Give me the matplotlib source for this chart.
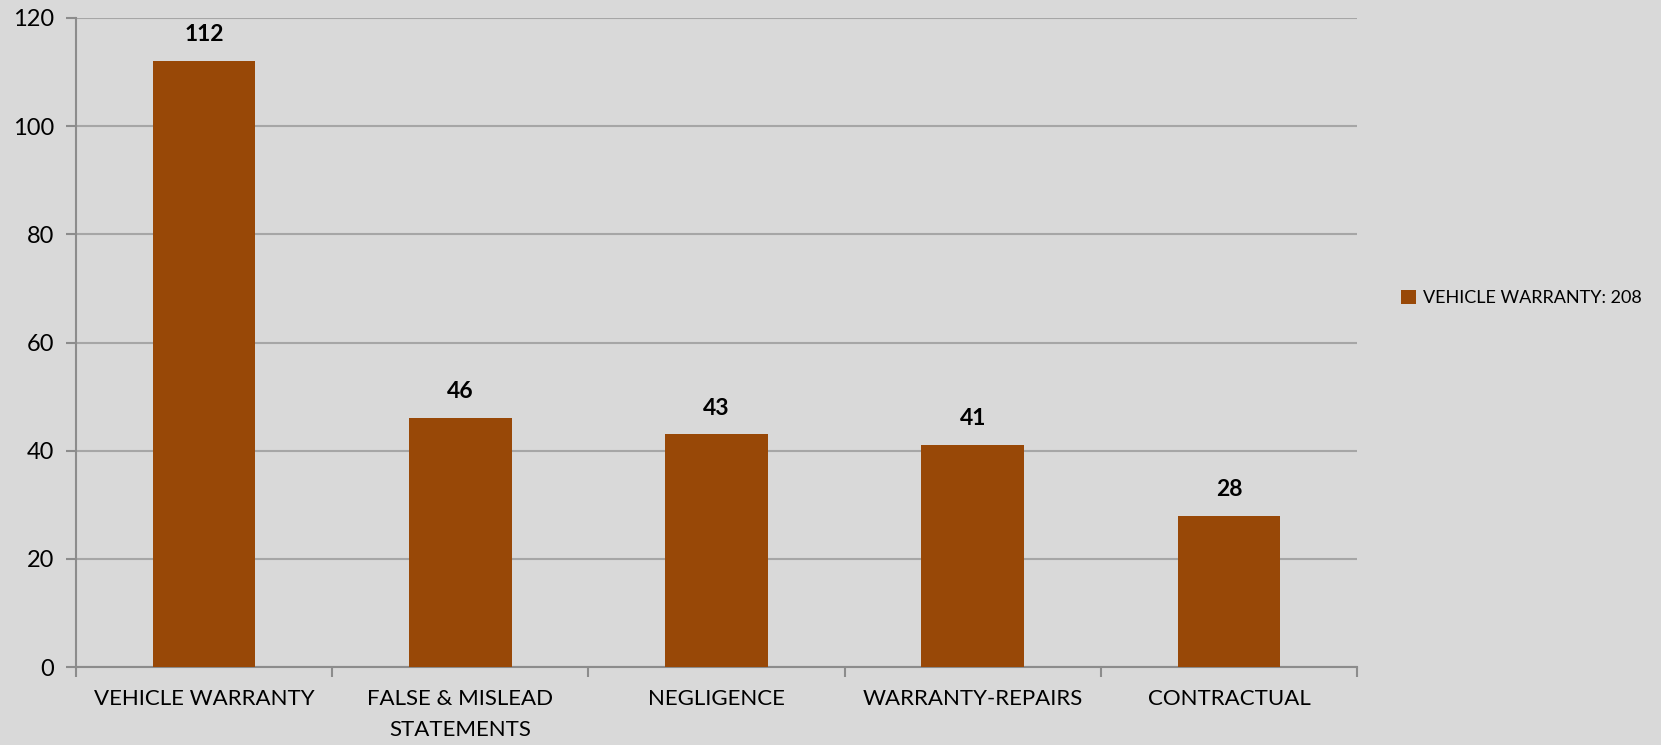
import matplotlib
matplotlib.use("Agg")
import matplotlib.pyplot as plt
from matplotlib.patches import Patch
import numpy as np

categories = ["VEHICLE WARRANTY", "FALSE & MISLEAD\nSTATEMENTS", "NEGLIGENCE",
              "WARRANTY-REPAIRS", "CONTRACTUAL"]
counts = [112, 46, 43, 41, 28]
legend_label = "VEHICLE WARRANTY: 208"
yticks = [0, 20, 40, 60, 80, 100, 120]

bg = "#d9d9d9"
bar_color = "#984807"
grid_color = "#a6a6a6"
axis_color = "#8c8c8c"

plt.rcParams['font.family'] = ['Lato', 'DejaVu Sans']

fig = plt.figure(figsize=(16.61, 7.45), dpi=100, facecolor=bg)
ax = fig.add_axes([76 / 1661, 1 - 667 / 745, (1357 - 76) / 1661, (667 - 18) / 745])
ax.set_facecolor(bg)

x = np.arange(len(categories))
bars = ax.bar(x, counts, width=0.4, color=bar_color, zorder=3)

for b, v in zip(bars, counts):
    ax.annotate(str(v), (b.get_x() + b.get_width() / 2, v), xytext=(0, 19),
                textcoords="offset points", ha="center", va="center",
                fontsize=16.5, fontweight="bold", color="black")

ax.set_xlim(-0.5, len(categories) - 0.5)
ax.set_ylim(0, 120)
ax.set_yticks(yticks)
ax.set_yticklabels([str(t) for t in yticks], fontsize=17)
ax.grid(axis='y', color=grid_color, linewidth=1.5, zorder=0)

# category labels between boundary ticks
ax.set_xticks(x)
ax.set_xticklabels(categories, fontsize=16, linespacing=1.65)
ax.tick_params(axis='x', length=0, pad=16)
ax.set_xticks(np.arange(len(categories) + 1) - 0.5, minor=True)
ax.tick_params(axis='x', which='minor', length=7, width=1.5, color=axis_color)
ax.tick_params(axis='y', length=7, width=1.5, color=axis_color, pad=9)

for side in ['top', 'right']:
    ax.spines[side].set_visible(False)
for side in ['left', 'bottom']:
    ax.spines[side].set_color(axis_color)
    ax.spines[side].set_linewidth(1.5)

handle = Patch(facecolor=bar_color, edgecolor='none')
fig.legend([handle], [legend_label], loc="center left",
           bbox_to_anchor=(1385 / 1661, 1 - 298 / 745), frameon=False,
           fontsize=13, handlelength=0.8, handleheight=0.8, handletextpad=0.4)

fig.savefig("out.png", dpi=100, facecolor=bg)
